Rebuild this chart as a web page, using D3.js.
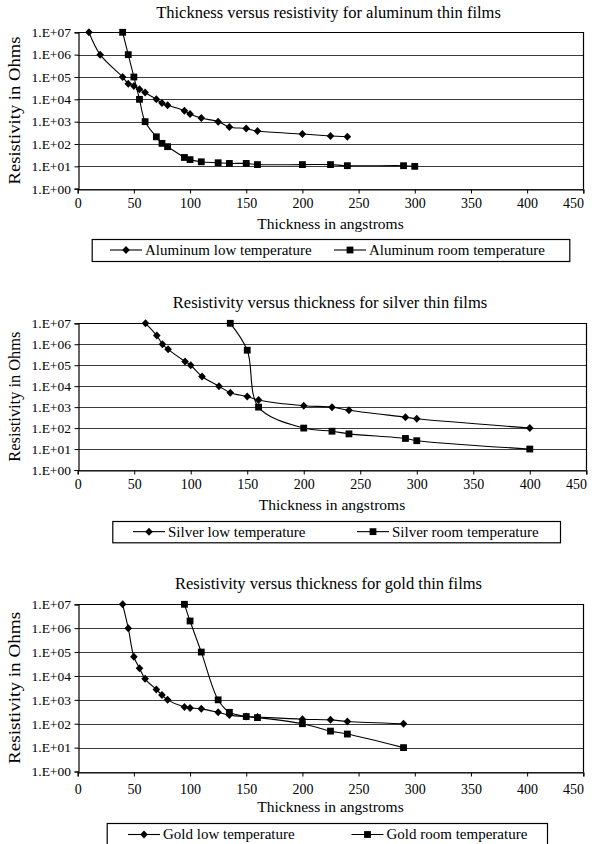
<!DOCTYPE html>
<html>
<head>
<meta charset="utf-8">
<script src="https://cdn.jsdelivr.net/npm/d3@7"></script>
<style>
  html, body { margin: 0; padding: 0; background: #fff; }
  svg { display: block; font-family: "Liberation Serif", "Times New Roman", serif; }
</style>
</head>
<body>
<svg id="chart" width="595" height="844"></svg>
<script>
// Axis ticks and labels shared by the three panels
const xTicks = [0, 50, 100, 150, 200, 250, 300, 350, 400, 450];
const yTicks = [1, 1e1, 1e2, 1e3, 1e4, 1e5, 1e6, 1e7];
const xAxisTitle = "Thickness in angstroms";
const yAxisTitle = "Resistivity in Ohms";

// Aluminum
const alTitle = "Thickness versus resistivity for aluminum thin films";
const alLowLabel = "Aluminum low temperature";
const alRoomLabel = "Aluminum room temperature";
const alLowThickness = [10, 20, 40, 45, 50, 55, 60, 70, 75, 80, 95, 100, 110, 125, 135, 150, 160, 200, 225, 240];
const alLowResistivity = [1e7, 1e6, 1e5, 5e4, 4e4, 2.8e4, 2e4, 1e4, 6.8e3, 5.4e3, 3.1e3, 2.2e3, 1.45e3, 1e3, 580, 490, 380, 280, 230, 210];
const alRoomThickness = [40, 45, 50, 55, 60, 70, 75, 80, 95, 100, 110, 125, 135, 150, 160, 200, 225, 240, 290, 300];
const alRoomResistivity = [1e7, 1e6, 1e5, 1e4, 1e3, 210, 107, 76, 25, 20, 16, 14.5, 13.5, 13.5, 12, 12, 12, 10.7, 10.7, 10];

// Silver
const agTitle = "Resistivity versus thickness for silver thin films";
const agLowLabel = "Silver low temperature";
const agRoomLabel = "Silver room temperature";
const agLowThickness = [60, 70, 75, 80, 95, 100, 110, 125, 135, 150, 160, 200, 225, 240, 290, 300, 400];
const agLowResistivity = [1e7, 2.6e6, 1e6, 5.7e5, 1.5e5, 1e5, 2.9e4, 1e4, 4.9e3, 3.2e3, 2.2e3, 1.17e3, 1e3, 710, 330, 280, 100];
const agRoomThickness = [135, 150, 160, 200, 225, 240, 290, 300, 400];
const agRoomResistivity = [1e7, 5.2e5, 1e3, 100, 71, 53, 32, 25, 10];

// Gold
const auTitle = "Resistivity versus thickness for gold thin films";
const auLowLabel = "Gold low temperature";
const auRoomLabel = "Gold room temperature";
const auLowThickness = [40, 45, 50, 55, 60, 70, 75, 80, 95, 100, 110, 125, 135, 150, 160, 200, 225, 240, 290];
const auLowResistivity = [1e7, 1e6, 6.3e4, 2.1e4, 7.6e3, 2.7e3, 1.6e3, 1e3, 500, 460, 420, 300, 230, 200, 190, 155, 145, 124, 100];
const auRoomThickness = [95, 100, 110, 125, 135, 150, 160, 200, 225, 240, 290];
const auRoomResistivity = [1e7, 2e6, 1e5, 1e3, 300, 200, 180, 100, 49, 37, 10];

const zip = (xs, ys) => xs.map((x, i) => ({ x, y: ys[i] }));

const panels = [
  {
    title: alTitle,
    low: zip(alLowThickness, alLowResistivity), lowLabel: alLowLabel,
    room: zip(alRoomThickness, alRoomResistivity), roomLabel: alRoomLabel,
    box: { left: 77.7, right: 583.3, top: 32.3, bottom: 188.7 },
    titleY: 17.5, tickY: 203.5, axisTitleY: 229, yTitleLen: 148,
    legend: { x0: 91.7, x1: 569.3, y0: 239, y1: 261, e1: 110, e2: 334 }
  },
  {
    title: agTitle,
    low: zip(agLowThickness, agLowResistivity), lowLabel: agLowLabel,
    room: zip(agRoomThickness, agRoomResistivity), roomLabel: agRoomLabel,
    box: { left: 77.7, right: 586.3, top: 323.3, bottom: 470 },
    titleY: 307.5, tickY: 484, axisTitleY: 510, yTitleLen: 130,
    legend: { x0: 112.3, x1: 560, y0: 521, y1: 542.3, e1: 133, e2: 357 }
  },
  {
    title: auTitle,
    low: zip(auLowThickness, auLowResistivity), lowLabel: auLowLabel,
    room: zip(auRoomThickness, auRoomResistivity), roomLabel: auRoomLabel,
    box: { left: 77.7, right: 583.3, top: 604.3, bottom: 771.5 },
    titleY: 589, tickY: 789, axisTitleY: 812, yTitleLen: 152,
    legend: { x0: 106.7, x1: 547, y0: 823, y1: 846, e1: 128, e2: 351.5 }
  }
];

const svg = d3.select("#chart");
const svgWidth = +svg.attr("width");
const fmtY = d => "1.E+" + String(Math.round(Math.log10(d))).padStart(2, "0");

const diamond = (g, cx, cy) =>
  g.append("path")
    .attr("d", `M${cx},${cy - 4}L${cx + 3.8},${cy}L${cx},${cy + 4}L${cx - 3.8},${cy}Z`)
    .attr("fill", "#000");
const square = (g, cx, cy) =>
  g.append("rect")
    .attr("x", cx - 3.4).attr("y", cy - 3.4)
    .attr("width", 6.8).attr("height", 6.8)
    .attr("fill", "#000");

panels.forEach(p => {
  const b = p.box;
  const g = svg.append("g");
  const x = d3.scaleLinear().domain([0, 450]).range([b.left, b.right]);
  const y = d3.scaleLog().domain([1, 1e7]).range([b.bottom, b.top]);
  const midX = (b.left + b.right) / 2;

  // Title
  g.append("text")
    .attr("x", midX - 2).attr("y", p.titleY)
    .attr("text-anchor", "middle")
    .attr("font-size", 16.5)
    .text(p.title);

  // Horizontal gridlines at each decade
  g.append("g").selectAll("line").data(yTicks).join("line")
    .attr("x1", b.left).attr("x2", b.right)
    .attr("y1", d => Math.round(y(d)) + 0.5).attr("y2", d => Math.round(y(d)) + 0.5)
    .attr("stroke", "#3c3c3c").attr("stroke-width", 1);

  // Plot frame: top and right edges
  g.append("path")
    .attr("d", `M${b.left},${Math.round(b.top) + 0.5}H${Math.round(b.right) + 0.5}V${Math.round(b.bottom) + 0.5}`)
    .attr("fill", "none").attr("stroke", "#000").attr("stroke-width", 1.2);

  // Y axis
  const yAxis = g.append("g")
    .attr("transform", `translate(${Math.round(b.left) + 0.5},0)`)
    .call(d3.axisLeft(y).tickValues(yTicks).tickFormat(fmtY).tickSize(4).tickPadding(3.5));
  yAxis.select(".domain").attr("stroke", "#000").attr("stroke-width", 1.2);
  yAxis.selectAll(".tick line").attr("stroke", "#000");
  yAxis.selectAll(".tick text")
    .attr("font-family", "Liberation Serif, serif")
    .attr("font-size", 13.5).attr("fill", "#000");

  // X axis
  const axisY = Math.round(b.bottom) + 0.5;
  const xAxis = g.append("g")
    .attr("transform", `translate(0,${axisY})`)
    .call(d3.axisBottom(x).tickValues(xTicks).tickFormat(d3.format("d")).tickSize(4).tickPadding(0));
  xAxis.select(".domain").attr("stroke", "#000").attr("stroke-width", 1.2);
  xAxis.selectAll(".tick line").attr("stroke", "#000");
  xAxis.selectAll(".tick text")
    .attr("font-family", "Liberation Serif, serif")
    .attr("font-size", 14).attr("fill", "#000")
    .attr("y", p.tickY - axisY).attr("dy", "0.35em");
  // Keep the last label inside the page when the axis runs close to the edge
  xAxis.selectAll(".tick").each(function () {
    const t = d3.select(this);
    const tx = +t.attr("transform").match(/translate\(([-\d.]+)/)[1];
    const txt = t.select("text");
    const w = txt.node().getComputedTextLength();
    if (tx + w / 2 > svgWidth - 1) {
      txt.attr("text-anchor", "end").attr("x", b.right + 0.7 - tx);
    }
  });

  // Axis titles
  g.append("text")
    .attr("x", midX).attr("y", p.axisTitleY)
    .attr("text-anchor", "middle")
    .attr("font-size", 15.5)
    .text(xAxisTitle);
  const yMid = (b.top + b.bottom) / 2;
  g.append("text")
    .attr("transform", `translate(15,${yMid}) rotate(-90)`)
    .attr("text-anchor", "middle")
    .attr("dy", "0.32em")
    .attr("font-size", 16)
    .attr("textLength", p.yTitleLen)
    .attr("lengthAdjust", "spacingAndGlyphs")
    .text(yAxisTitle);

  // Smoothed series lines
  const line = d3.line()
    .x(d => x(d.x)).y(d => y(d.y))
    .curve(d3.curveCatmullRom.alpha(0.5));
  [p.low, p.room].forEach(series => {
    g.append("path")
      .attr("d", line(series))
      .attr("fill", "none").attr("stroke", "#000").attr("stroke-width", 1.1);
  });

  // Markers
  p.low.forEach(d => diamond(g, x(d.x), y(d.y)));
  p.room.forEach(d => square(g, x(d.x), y(d.y)));

  // Legend
  const L = p.legend;
  g.append("rect")
    .attr("x", L.x0 + 0.5).attr("y", L.y0 + 0.5)
    .attr("width", L.x1 - L.x0).attr("height", L.y1 - L.y0)
    .attr("fill", "#fff").attr("stroke", "#000").attr("stroke-width", 1.2);
  const legendLy = Math.min((L.y0 + L.y1) / 2, L.y0 + 11.5);
  [[L.e1, p.lowLabel, diamond], [L.e2, p.roomLabel, square]].forEach(([ex, label, mark]) => {
    g.append("line")
      .attr("x1", ex).attr("x2", ex + 32)
      .attr("y1", legendLy).attr("y2", legendLy)
      .attr("stroke", "#000").attr("stroke-width", 1.1);
    mark(g, ex + 16, legendLy);
    g.append("text")
      .attr("x", ex + 35).attr("y", legendLy)
      .attr("dy", "0.33em")
      .attr("font-size", 15)
      .text(label);
  });
});
</script>
</body>
</html>
